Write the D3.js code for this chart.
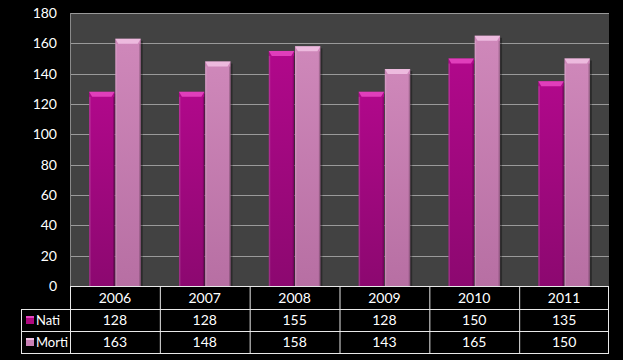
<!DOCTYPE html>
<html><head><meta charset="utf-8">
<script src="https://cdn.jsdelivr.net/npm/d3@7"></script>
<style>
html,body{margin:0;padding:0;background:#000;}
svg{display:block;}
text{font-family:Lato,"Open Sans",sans-serif;fill:#fff;}
</style></head>
<body><svg id="c" width="623" height="360"></svg>
<script>
const years = ["2006","2007","2008","2009","2010","2011"];
const nati = [128,128,155,128,150,135];
const morti = [163,148,158,143,165,150];
const seriesNames = ["Nati","Morti"];
const yTicks = [0,20,40,60,80,100,120,140,160,180];

const svg = d3.select("#c");
const L = 70, R = 609, T = 13, B = 286;
const x = d3.scaleBand().domain(years).range([L,R]);
const xs = d3.scaleBand().domain(seriesNames).range([0, x.bandwidth()]).paddingInner(0.03).paddingOuter(0.73);
const y = d3.scaleLinear().domain([0,180]).range([B,T]);

const defs = svg.append("defs");
function grad(id, c1, c2){
  const g = defs.append("linearGradient").attr("id",id).attr("x1",0).attr("x2",0).attr("y1",0).attr("y2",1);
  g.append("stop").attr("offset","0%").attr("stop-color",c1);
  g.append("stop").attr("offset","100%").attr("stop-color",c2);
}
grad("gN","#b1088b","#8c0870");
grad("gM","#cf88ba","#b76fa3");
const colors = {Nati:{fill:"url(#gN)", top:"#e545c0", solid:"#b0087f"}, Morti:{fill:"url(#gM)", top:"#f0c0e2", solid:"#c981b6"}};

svg.append("rect").attr("x",L).attr("y",T).attr("width",R-L).attr("height",B-T).attr("fill","#424242");

svg.append("g").selectAll("line").data(yTicks.filter(d=>d>0)).join("line")
  .attr("x1",L).attr("x2",R).attr("y1",d=>Math.round(y(d))+0.5).attr("y2",d=>Math.round(y(d))+0.5)
  .attr("stroke","#9a9a9a").attr("stroke-width",1);
svg.append("line").attr("x1",L+0.5).attr("x2",L+0.5).attr("y1",T).attr("y2",B).attr("stroke","#8a8a8a");

const yAxis = svg.append("g").attr("transform",`translate(${L},0)`)
  .call(d3.axisLeft(y).tickValues(yTicks).tickSize(0).tickPadding(13));
yAxis.select(".domain").remove();
yAxis.selectAll("text").attr("font-size",14).attr("fill","#fff");

const data = [];
years.forEach((yr,i)=>{
  data.push({yr, s:"Nati", v:nati[i]});
  data.push({yr, s:"Morti", v:morti[i]});
});
const bars = svg.append("g").selectAll("g").data(data).join("g")
  .attr("transform",d=>`translate(${x(d.yr)+xs(d.s)},0)`);
const bw = xs.bandwidth();
bars.append("rect").attr("x",2).attr("y",d=>y(d.v)+2).attr("width",bw).attr("height",d=>B-y(d.v)-2)
  .attr("fill","rgba(0,0,0,0.35)");
bars.append("rect").attr("x",0).attr("y",d=>y(d.v)).attr("width",bw).attr("height",d=>B-y(d.v))
  .attr("fill",d=>colors[d.s].fill);
bars.append("path").attr("d",d=>{const t=y(d.v);return `M0,${t}L${bw},${t}L${bw-3},${t+5}L3,${t+5}Z`;})
  .attr("fill",d=>colors[d.s].top).attr("opacity",0.9);
bars.append("rect").attr("x",0).attr("y",d=>y(d.v)+5).attr("width",1.5).attr("height",d=>B-y(d.v)-5)
  .attr("fill","rgba(255,255,255,0.15)");
bars.append("rect").attr("x",bw-1.5).attr("y",d=>y(d.v)+5).attr("width",1.5).attr("height",d=>B-y(d.v)-5)
  .attr("fill","rgba(0,0,0,0.2)");

const rowTop = [286,309,331,353];
const tbl = svg.append("g");
tbl.append("rect").attr("x",L).attr("y",B).attr("width",R-L).attr("height",353-B).attr("fill","#000");
const lineC = "#e8e8e8";
rowTop.forEach((yy,i)=>{
  tbl.append("line").attr("x1", i===0?L:21).attr("x2",R).attr("y1",yy+0.5).attr("y2",yy+0.5).attr("stroke",lineC);
});
years.forEach(yr=>{
  tbl.append("line").attr("x1",x(yr)+0.5).attr("x2",x(yr)+0.5).attr("y1",B).attr("y2",353).attr("stroke",lineC);
});
tbl.append("line").attr("x1",R-0.5).attr("x2",R-0.5).attr("y1",B).attr("y2",353).attr("stroke",lineC);
tbl.append("line").attr("x1",21.5).attr("x2",21.5).attr("y1",309).attr("y2",353).attr("stroke",lineC);

tbl.selectAll("text.yr").data(years).join("text").attr("class","yr")
  .attr("x",d=>x(d)+x.bandwidth()/2).attr("y",(rowTop[0]+rowTop[1])/2+5)
  .attr("text-anchor","middle").attr("font-size",14).text(d=>d);
[nati,morti].forEach((arr,r)=>{
  tbl.selectAll("text.v"+r).data(arr).join("text").attr("class","v"+r)
    .attr("x",(d,i)=>x(years[i])+x.bandwidth()/2).attr("y",(rowTop[r+1]+rowTop[r+2])/2+5)
    .attr("text-anchor","middle").attr("font-size",14).text(d=>d);
  const nm = seriesNames[r];
  const cy = (rowTop[r+1]+rowTop[r+2])/2;
  tbl.append("rect").attr("x",26).attr("y",cy-4).attr("width",8).attr("height",8).attr("fill",colors[nm].solid);
  tbl.append("rect").attr("x",26).attr("y",cy-4).attr("width",8).attr("height",2).attr("fill",colors[nm].top);
  tbl.append("text").attr("x",36).attr("y",cy+5).attr("font-size",13).text(nm);
});
</script></body></html>
